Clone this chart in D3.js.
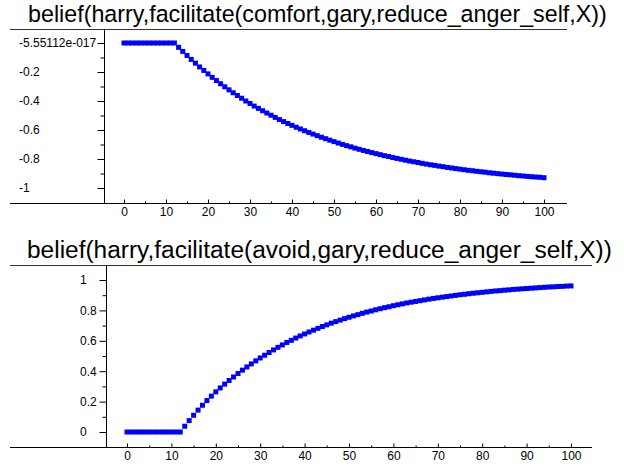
<!DOCTYPE html>
<html>
<head>
<meta charset="utf-8">
<script src="https://cdn.jsdelivr.net/npm/d3@7"></script>
<style>
  html, body { margin: 0; padding: 0; background: #fff; }
  svg { display: block; }
  text { font-family: "Liberation Sans", Arial, sans-serif; fill: #000; }
</style>
</head>
<body>
<svg id="chart" width="624" height="468"></svg>
<script>
// ---------- data ----------
const xValues = d3.range(0, 101); // 0..100

const titleTop = "belief(harry,facilitate(comfort,gary,reduce_anger_self,X))";
const titleBottom = "belief(harry,facilitate(avoid,gary,reduce_anger_self,X))";

// belief for "comfort" (x = 0..100)
const comfortValues = [
  0,0,0,0,0,0,0,0,0,0,0,0,0,
  -0.030,-0.058,-0.086,-0.113,-0.139,-0.165,-0.189,-0.213,-0.237,-0.259,
  -0.281,-0.302,-0.323,-0.343,-0.362,-0.381,-0.400,-0.417,-0.435,-0.451,
  -0.467,-0.483,-0.498,-0.513,-0.528,-0.542,-0.555,-0.568,-0.581,-0.593,
  -0.605,-0.617,-0.628,-0.639,-0.650,-0.660,-0.670,-0.680,-0.690,-0.699,
  -0.708,-0.716,-0.725,-0.733,-0.741,-0.748,-0.756,-0.763,-0.770,-0.777,
  -0.783,-0.790,-0.796,-0.802,-0.808,-0.814,-0.819,-0.824,-0.830,-0.835,
  -0.840,-0.844,-0.849,-0.853,-0.858,-0.862,-0.866,-0.870,-0.874,-0.878,
  -0.881,-0.885,-0.888,-0.891,-0.895,-0.898,-0.901,-0.904,-0.907,-0.909,
  -0.912,-0.915,-0.917,-0.920,-0.922,-0.924,-0.926,-0.929
];

// belief for "avoid" (x = 0..100)
const avoidValues = [
  0,0,0,0,0,0,0,0,0,0,0,0,0,
  0.038,0.075,0.110,0.144,0.176,0.207,0.236,0.264,0.290,0.315,
  0.339,0.362,0.385,0.407,0.428,0.448,0.468,0.487,0.505,0.523,
  0.540,0.557,0.573,0.589,0.603,0.618,0.632,0.645,0.658,0.670,
  0.682,0.694,0.705,0.716,0.726,0.736,0.746,0.755,0.764,0.772,
  0.781,0.789,0.796,0.804,0.811,0.818,0.824,0.831,0.837,0.843,
  0.849,0.854,0.859,0.864,0.869,0.874,0.879,0.883,0.887,0.891,
  0.895,0.899,0.903,0.906,0.910,0.913,0.916,0.919,0.922,0.925,
  0.928,0.930,0.933,0.935,0.938,0.940,0.942,0.944,0.946,0.948,
  0.950,0.952,0.954,0.955,0.957,0.958,0.960,0.961
];

const xTickValues = [0,10,20,30,40,50,60,70,80,90,100];
const xMinorValues = [5,15,25,35,45,55,65,75,85,95];

const yTopTickValues = [0,-0.2,-0.4,-0.6,-0.8,-1];
const yTopTickLabels = ["-5.55112e-017","-0.2","-0.4","-0.6","-0.8","-1"];
const yTopMinorValues = [-0.1,-0.3,-0.5,-0.7,-0.9];

const yBotTickValues = [1,0.8,0.6,0.4,0.2,0];
const yBotTickLabels = ["1","0.8","0.6","0.4","0.2","0"];
const yBotMinorValues = [0.9,0.7,0.5,0.3,0.1];

// ---------- drawing ----------
const svg = d3.select("#chart");
const tickFont = "12px";

function panel(cfg) {
  const g = svg.append("g");
  const x = d3.scaleLinear().domain([0,100]).range(cfg.xRange);
  const y = d3.scaleLinear().domain(cfg.yDomain).range(cfg.yRange);

  // title
  const t = g.append("text")
    .attr("x", cfg.titleX).attr("y", cfg.titleY)
    .style("font-size", "20px")
    .text(cfg.title);
  const w = t.node().getComputedTextLength();
  t.style("font-size", (20 * cfg.titleW / w).toFixed(2) + "px");

  // frame lines
  g.append("line").attr("x1", cfg.frameL).attr("x2", cfg.frameR)
    .attr("y1", cfg.frameT + 0.5).attr("y2", cfg.frameT + 0.5)
    .attr("stroke", "#333").attr("stroke-width", 1);
  g.append("line").attr("x1", cfg.frameL).attr("x2", cfg.frameR)
    .attr("y1", cfg.frameB + 0.5).attr("y2", cfg.frameB + 0.5)
    .attr("stroke", "#000").attr("stroke-width", 1);
  g.append("line").attr("x1", cfg.axisX + 0.5).attr("x2", cfg.axisX + 0.5)
    .attr("y1", cfg.frameT).attr("y2", cfg.frameB)
    .attr("stroke", "#000").attr("stroke-width", 1);

  // y axis (major)
  const ya = g.append("g").attr("transform", `translate(${cfg.axisX + 0.5},0)`)
    .call(d3.axisLeft(y).tickValues(cfg.yTicks)
      .tickFormat((d, i) => cfg.yLabels[i]).tickSize(7).tickPadding(0));
  ya.select(".domain").remove();
  ya.selectAll("line").attr("stroke", "#000");
  ya.selectAll("text")
    .attr("text-anchor", "start")
    .attr("x", cfg.yLabelX - cfg.axisX - 0.5)
    .style("font-size", tickFont)
    .style("font-family", "\"Liberation Sans\", Arial, sans-serif");
  // y axis (minor)
  const ym = g.append("g").attr("transform", `translate(${cfg.axisX + 0.5},0)`)
    .call(d3.axisLeft(y).tickValues(cfg.yMinor).tickFormat("").tickSize(4));
  ym.select(".domain").remove();
  ym.selectAll("line").attr("stroke", "#000");

  // x axis (major ticks pointing up, labels below)
  const xa = g.append("g").attr("transform", `translate(0,${cfg.frameB + 0.5})`)
    .call(d3.axisTop(x).tickValues(xTickValues).tickSize(4).tickFormat(""));
  xa.select(".domain").remove();
  xa.selectAll("line").attr("stroke", "#000");
  const xm = g.append("g").attr("transform", `translate(0,${cfg.frameB + 0.5})`)
    .call(d3.axisTop(x).tickValues(xMinorValues).tickSize(2).tickFormat(""));
  xm.select(".domain").remove();
  xm.selectAll("line").attr("stroke", "#000");
  const xl = g.append("g").attr("transform", `translate(0,${cfg.frameB + 0.5})`)
    .call(d3.axisBottom(x).tickValues(xTickValues).tickSize(0).tickPadding(4).tickFormat(d3.format("d")));
  xl.select(".domain").remove();
  xl.selectAll("text")
    .style("font-size", tickFont)
    .style("font-family", "\"Liberation Sans\", Arial, sans-serif");

  // points
  const ms = 5;
  g.append("g").selectAll("rect")
    .data(xValues.map((d, i) => [d, cfg.values[i]]))
    .join("rect")
    .attr("x", d => x(d[0]) - ms / 2)
    .attr("y", d => y(d[1]) - ms / 2)
    .attr("width", ms).attr("height", ms)
    .attr("fill", "#0000ff");
}

panel({
  title: titleTop, titleX: 28, titleY: 22, titleW: 579,
  frameL: 10, frameR: 567, frameT: 29, frameB: 203, axisX: 104,
  xRange: [124, 544], yDomain: [-1, 0], yRange: [188, 43],
  yTicks: yTopTickValues, yLabels: yTopTickLabels, yMinor: yTopMinorValues,
  yLabelX: 19, values: comfortValues
});

panel({
  title: titleBottom, titleX: 27, titleY: 258, titleW: 585,
  frameL: 10, frameR: 592, frameT: 265, frameB: 447, axisX: 106,
  xRange: [127, 571], yDomain: [0, 1], yRange: [432, 280],
  yTicks: yBotTickValues, yLabels: yBotTickLabels, yMinor: yBotMinorValues,
  yLabelX: 80, values: avoidValues
});
</script>
</body>
</html>
